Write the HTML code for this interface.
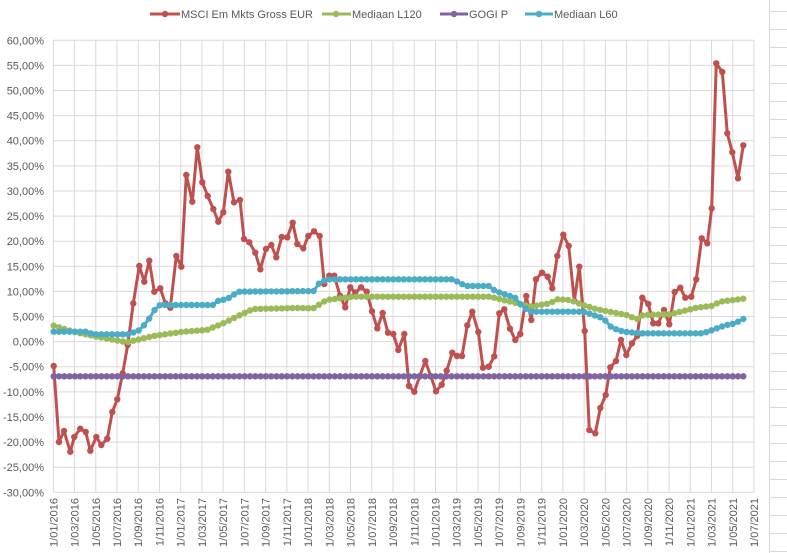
<!DOCTYPE html>
<html><head><meta charset="utf-8"><style>
html,body{margin:0;padding:0;background:#fff;}
svg{display:block;font-family:"Liberation Sans",sans-serif;}
</style></head><body>
<svg id="s" width="787" height="553" viewBox="0 0 787 553" xmlns="http://www.w3.org/2000/svg">
<rect width="787" height="553" fill="#fff"/>
<g id="grid" stroke="#d9d9d9" stroke-width="1"></g>
<g id="ylab" font-size="11" fill="#595959" text-anchor="end"></g>
<g id="xlab" font-size="11" fill="#595959" text-anchor="end"></g>
<g id="series"></g>
<g font-size="11" fill="#595959">
<line x1="150" y1="14" x2="180" y2="14" stroke="#c0504d" stroke-width="3"/><circle cx="165" cy="14" r="3.2" fill="#c0504d"/>
<text x="181" y="18">MSCI Em Mkts Gross EUR</text>
<line x1="322" y1="14" x2="351" y2="14" stroke="#9bbb59" stroke-width="3"/><circle cx="336" cy="14" r="3.2" fill="#9bbb59"/>
<text x="352" y="18">Mediaan L120</text>
<line x1="440" y1="14" x2="468" y2="14" stroke="#8064a2" stroke-width="3"/><circle cx="454" cy="14" r="3.2" fill="#8064a2"/>
<text x="469" y="18">GOGI P</text>
<line x1="525" y1="14" x2="553" y2="14" stroke="#4bacc6" stroke-width="3"/><circle cx="539" cy="14" r="3.2" fill="#4bacc6"/>
<text x="554" y="18">Mediaan L60</text>
</g>
</svg>
<script>
var NS="http://www.w3.org/2000/svg";
function el(t,a,p,txt){var e=document.createElementNS(NS,t);for(var k in a)e.setAttribute(k,a[k]);if(txt!==undefined)e.textContent=txt;p.appendChild(e);return e;}
var g=document.getElementById('grid'),yl=document.getElementById('ylab'),xl=document.getElementById('xlab'),ser=document.getElementById('series');
var L=53.3,R=754,T=40.3,B=492.3;
el('line',{x1:769.5,y1:0,x2:769.5,y2:553},g);
for(var y=11.5;y<553;y+=18)el('line',{x1:770,y1:y,x2:787,y2:y},g);
for(var i=0;i<=18;i++){var yy=T+(B-T)*i/18;el('line',{x1:L,y1:yy,x2:R,y2:yy},g);
 var v=60-5*i;var s=(v<0?'-':'')+Math.abs(v).toFixed(2).replace('.',',')+'%';el('text',{x:44,y:yy+4},yl,s);}
var dates=[];for(var yr=2016;yr<=2021;yr++)for(var m=1;m<=11;m+=2){if(yr==2021&&m>7)break;dates.push('1/'+(m<10?'0':'')+m+'/'+yr);}
for(var i=0;i<dates.length;i++){var xx=L+(R-L)*i/(dates.length-1);el('line',{x1:xx,y1:T,x2:xx,y2:B},g);
 el('text',{x:0,y:0,transform:'translate('+(xx+4)+',498) rotate(-90)'},xl,dates[i]);}
function resample(k){var out=[];var x0=53.7,x1=743.3,n=131;for(var i=0;i<n;i++){var x=x0+(x1-x0)*i/(n-1);var j=0;while(j<k.length-2&&k[j+1][0]<x)j++;var a=k[j],b=k[j+1];var t=(x-a[0])/(b[0]-a[0]);t=Math.max(0,Math.min(1,t));out.push([x,a[1]+(b[1]-a[1])*t]);}return out;}
function draw(pts,c){el('polyline',{points:pts.map(function(p){return p[0].toFixed(1)+','+p[1].toFixed(1)}).join(' '),fill:'none',stroke:c,'stroke-width':3,'stroke-linejoin':'round'},ser);
 pts.forEach(function(p){el('circle',{cx:p[0].toFixed(1),cy:p[1].toFixed(1),r:3.2,fill:c},ser);});}
var purple=resample([[53.7,376.3],[743.3,376.3]]);
var green=resample([[53.7,325.7],[73.3,331.7],[96.7,336.7],[126.7,342.3],[153.3,336],[183.3,331.7],[206.7,330],[223.3,323.3],[240,315],[253.3,309],[298.3,308],[313.3,308.3],[326.7,300],[353.3,296.7],[490,296.7],[516.7,303.3],[530,306.7],[550,303.3],[556.7,299.3],[570,300],[580,304],[596.7,309.3],[626.7,315],[636.7,319.3],[643.3,315],[670,314.3],[696.7,307.7],[711.7,306],[720,301.7],[743.3,298.7]]);
var blue=resample([[53.7,331.7],[86.7,331.7],[93.3,334.3],[128.3,334.3],[140,330],[148.3,320],[155,309.3],[160,305],[213.3,305],[218.3,300.7],[226.7,299.3],[238.3,291.7],[315,291],[320,281.7],[330,279.3],[453.3,279.3],[460,283.3],[466.7,286],[490,286],[495,291],[516.7,298.3],[521.7,306],[530,311.7],[583.3,311.7],[603.3,318.3],[611.7,327.7],[623.3,331.7],[640,333.3],[703.3,333.3],[716.7,328.3],[726.7,325],[735,323.3],[743.3,319]]);
var red=[[53.7,366],[59,442],[64,431],[70.3,451.7],[74.3,437],[80.3,428.7],[85.7,432],[90.3,450.7],[96.3,437],[101.3,445],[107.3,438.7],[112.3,412],[117.3,399.3],[122.7,373.3],[127.7,345],[133.3,303.3],[139.3,266],[144.3,281.7],[149.3,260.7],[154.3,291.7],[160.3,288.3],[165.3,303.3],[170.3,307.7],[176.3,256],[181.3,266.7],[186.3,175],[192.3,201.7],[197.3,147.3],[202.3,182.3],[207.7,196],[213.3,209],[218.3,221.7],[223.3,212.3],[228.3,171.7],[234,202.3],[240,200],[244,239],[249.3,242.3],[255.3,252.7],[260.3,269.3],[266,249],[271.3,245],[276.3,257.3],[281.7,237],[287.3,237.3],[292.7,222.7],[297.3,244],[303.3,248.3],[308.3,236],[314,231.3],[319.7,236],[324.3,284],[329.3,275.7],[334.3,275.7],[340,295.7],[345.3,307.3],[350.3,287.3],[355.3,292.7],[361,287.3],[366.7,291.7],[372,311.3],[377.3,328.3],[382.7,313],[388,332.7],[393.3,334],[398.3,350],[404.3,334],[409,386],[414.3,391.7],[419.8,376],[425.3,361],[430.7,376],[436,391.3],[441.7,384.7],[446.7,370.7],[452.3,352.7],[457,356],[462,356],[467.3,325.3],[472.3,311.7],[478.3,332],[483,367.7],[488.7,366.7],[494.3,356.3],[499.3,313.3],[504.3,309.3],[510,328.7],[515.3,340],[520.3,334],[526.3,296],[531.3,320],[536,279.3],[542,272.7],[547.7,276.7],[552.3,288.3],[557.3,256],[563.3,234.7],[568.7,246],[574.3,301],[579.3,266.7],[584.7,331],[589.3,430],[595.3,433.3],[600.3,408],[605.7,395],[610.3,367.3],[616,361],[621,340],[626.3,355],[632,343.3],[637.3,335.7],[642.3,297.7],[648.3,304],[653.3,323.3],[658.3,323.3],[664,310],[669.3,324.3],[674.7,292],[680.3,287.7],[685.3,297.7],[691.3,296.7],[696.3,279.3],[701.7,238.3],[707.3,243.3],[711.7,208.3],[716.3,63.3],[722.3,72],[727.3,133.3],[732.3,152.3],[738,178.3],[743.3,145.3]];
draw(red,'#c0504d');draw(green,'#9bbb59');draw(purple,'#8064a2');draw(blue,'#4bacc6');
</script>
</body></html>
